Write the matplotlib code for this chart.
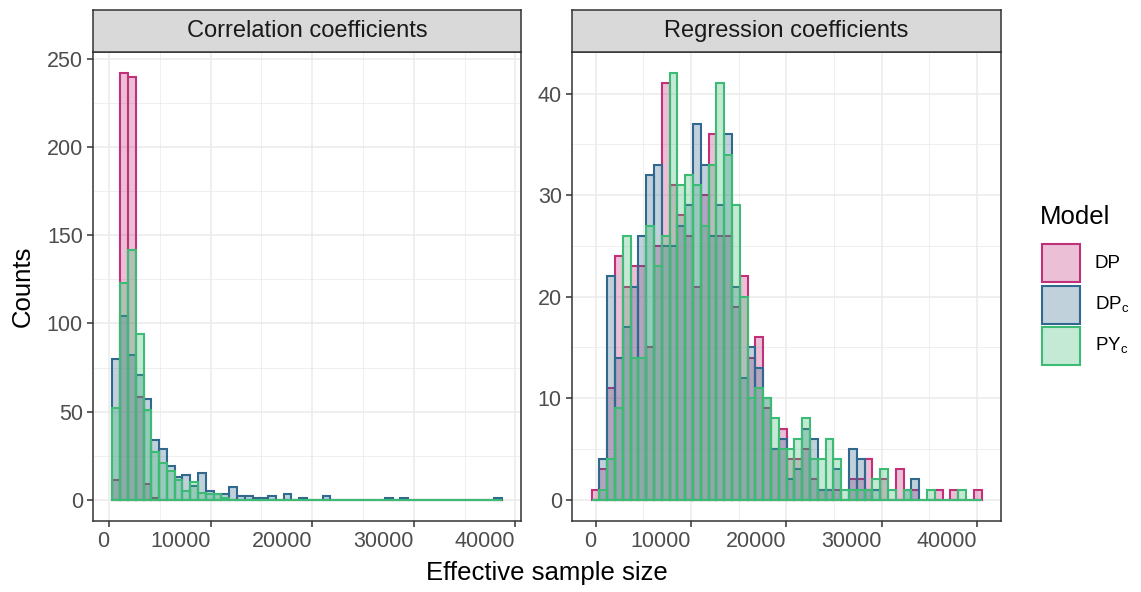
import matplotlib
matplotlib.use("Agg")
import matplotlib.pyplot as plt
import numpy as np
from matplotlib.patches import Rectangle
from matplotlib.ticker import MultipleLocator

plt.rcParams['font.family'] = ['Liberation Sans', 'DejaVu Sans']
plt.rcParams['mathtext.fontset'] = 'custom'
plt.rcParams['mathtext.rm'] = 'Liberation Sans'

# ---------------- data ----------------
models = ["DP", "DP_c", "PY_c"]
model_labels = ["DP", r"DP$_\mathregular{c}$", r"PY$_\mathregular{c}$"]
edge_colors = ["#C0317A", "#31688E", "#3CBB75"]
panel_titles = ["Correlation coefficients", "Regression coefficients"]

# Correlation panel: 50 bins
corr_bin_start = 333.0
corr_bin_width = 766.0
corr_DP = [11, 242, 240, 58, 9, 1] + [0] * 44
corr_DPc = [80, 104, 82, 71, 57, 34, 29, 19, 13, 14,
            8, 15, 5, 3, 3, 7, 2, 2, 1, 1,
            2, 0, 3, 0, 1, 0, 0, 2, 0, 0,
            0, 0, 0, 0, 0, 1, 0, 1, 0, 0,
            0, 0, 0, 0, 0, 0, 0, 0, 0, 1]
corr_PYc = [52, 123, 142, 94, 51, 27, 21, 16, 11, 5,
            10, 4, 3, 3, 1] + [0] * 35

# Regression panel: 50 bins
reg_bin_start = -449.0
reg_bin_width = 818.6
reg_DP = [1, 3, 11, 24, 21, 23, 23, 15, 25, 41,
          31, 28, 26, 21, 30, 36, 26, 26, 19, 22,
          14, 16, 9, 5, 7, 4, 4, 5, 2, 1,
          1, 1, 0, 2, 2, 4, 0, 2, 0, 3,
          0, 1, 0, 0, 1, 0, 1, 0, 0, 1]
reg_DPc = [0, 4, 22, 14, 17, 21, 26, 32, 33, 25,
           25, 27, 29, 37, 33, 26, 29, 36, 21, 12,
           15, 13, 10, 5, 6, 2, 3, 7, 6, 1,
           1, 3, 0, 5, 4, 1, 1, 0, 0, 0,
           1, 2, 0, 0, 0, 0, 0, 0, 0, 0]
reg_PYc = [0, 1, 4, 9, 26, 14, 14, 27, 23, 26,
           42, 31, 32, 31, 27, 33, 41, 34, 29, 20,
           10, 11, 10, 8, 5, 5, 6, 8, 4, 4,
           6, 4, 1, 1, 1, 1, 2, 3, 1, 0,
           1, 0, 0, 1, 0, 0, 0, 1, 0, 0]

x_ticks = [0, 10000, 20000, 30000, 40000]
corr_y_ticks = [0, 50, 100, 150, 200, 250]
reg_y_ticks = [0, 10, 20, 30, 40]

x_label = "Effective sample size"
y_label = "Counts"
legend_title = "Model"

# ---------------- layout helpers ----------------
W, H = 1141, 592
fig = plt.figure(figsize=(W / 100, H / 100), dpi=100)


def fx(x):
    return x / W


def fy(y):
    return 1 - y / H


def axes_px(x0, y0, x1, y1):
    return [fx(x0), fy(y1), fx(x1) - fx(x0), fy(y0) - fy(y1)]


BORDER = "#333333"
GRID = "#EBEBEB"
TICKC = "#4D4D4D"

panels = [
    dict(box=(93, 52, 521, 521), start=corr_bin_start, width=corr_bin_width,
         series=[corr_DP, corr_DPc, corr_PYc], yticks=corr_y_ticks, ymaj=50),
    dict(box=(572, 52, 1001, 521), start=reg_bin_start, width=reg_bin_width,
         series=[reg_DP, reg_DPc, reg_PYc], yticks=reg_y_ticks, ymaj=10),
]

for pi, p in enumerate(panels):
    x0, y0, x1, y1 = p["box"]
    ax = fig.add_axes(axes_px(x0, y0, x1, y1))
    nb = len(p["series"][0])
    lefts = p["start"] + p["width"] * np.arange(nb)
    for vals, col in zip(p["series"], edge_colors):
        rgba = matplotlib.colors.to_rgba(col, 0.3)
        ax.bar(lefts, vals, width=p["width"], align="edge", bottom=0,
               facecolor=rgba, edgecolor=col, linewidth=1.5, zorder=3)
    # limits with ggplot 5% expansion
    xlo = p["start"]
    xhi = p["start"] + p["width"] * nb
    span = xhi - xlo
    ax.set_xlim(xlo - 0.05 * span, xhi + 0.05 * span)
    ymax = max(max(s) for s in p["series"])
    ax.set_ylim(-0.05 * ymax, ymax * 1.05)

    ax.set_xticks(x_ticks)
    ax.set_xticklabels([str(t) for t in x_ticks])
    ax.xaxis.set_minor_locator(MultipleLocator(5000))
    ax.set_yticks(p["yticks"])
    ax.set_yticklabels([str(t) for t in p["yticks"]])
    ax.yaxis.set_minor_locator(MultipleLocator(p["ymaj"] / 2))

    ax.grid(which="major", color=GRID, linewidth=1.1, zorder=0)
    ax.grid(which="minor", color=GRID, linewidth=0.55, zorder=0)
    ax.set_axisbelow(True)
    for s in ax.spines.values():
        s.set_color(BORDER)
        s.set_linewidth(1.1)
    ax.tick_params(which="major", length=4.3, width=1.1, color=BORDER,
                   labelsize=15.5, labelcolor=TICKC, pad=3)
    ax.tick_params(which="minor", length=0)
    for lab in ax.get_xticklabels():
        lab.set_ha("right")

    # strip
    sax = fig.add_axes(axes_px(x0, 10, x1, 52))
    sax.set_facecolor("#D9D9D9")
    sax.set_xticks([])
    sax.set_yticks([])
    for s in sax.spines.values():
        s.set_color(BORDER)
        s.set_linewidth(1.1)
    sax.text(0.5, 0.5, panel_titles[pi], ha="center", va="center",
             fontsize=17, color="#1A1A1A", transform=sax.transAxes)

# axis titles
fig.text(fx(547), fy(573), x_label, ha="center", va="center", fontsize=18.5,
         color="black")
fig.text(fx(23), fy(286.5), y_label, ha="center", va="center", rotation=90,
         fontsize=18.5, color="black")

# legend (manual, ggplot-like)
fig.text(fx(1040), fy(217), legend_title, ha="left", va="center",
         fontsize=18.5, color="black")
for i, (lab, col) in enumerate(zip(model_labels, edge_colors)):
    top = 244 + i * 41.5
    r = Rectangle((fx(1042), fy(top + 38)), fx(38), 38 / H,
                  transform=fig.transFigure,
                  facecolor=matplotlib.colors.to_rgba(col, 0.3),
                  edgecolor=col, linewidth=1.5)
    fig.add_artist(r)
    fig.text(fx(1095), fy(top + 19), lab, ha="left", va="center",
             fontsize=13.5, color="black")

fig.savefig("out.png", dpi=100)
